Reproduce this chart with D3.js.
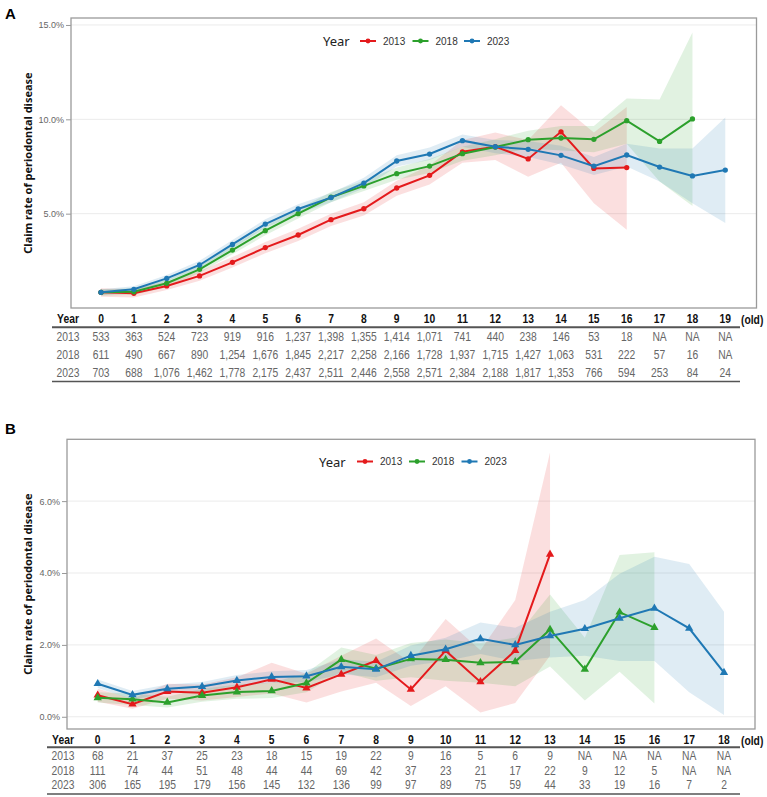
<!DOCTYPE html>
<html>
<head>
<meta charset="utf-8">
<script src="https://cdn.jsdelivr.net/npm/d3@7"></script>
<style>
  html, body { margin: 0; padding: 0; background: #fff; }
  svg { display: block; }
</style>
</head>
<body>
<div id="chart"></div>
<script>
// ===== CLAIM RATE OF PERIODONTAL DISEASE BY AGE =====

const years = ['2013', '2018', '2023'];
const colors = ['#e41a1c', '#2ca02c', '#1f78b4'];

// ---- Panel A (rates in %) ----
const agesA = [0, 1, 2, 3, 4, 5, 6, 7, 8, 9, 10, 11, 12, 13, 14, 15, 16, 17, 18, 19];
const rateA2013 = [0.83, 0.78, 1.17, 1.70, 2.42, 3.20, 3.87, 4.68, 5.26, 6.36, 7.03, 8.28, 8.55, 7.90, 9.34, 7.40, 7.44];
const lowA2013  = [0.60, 0.55, 0.95, 1.45, 2.15, 2.90, 3.55, 4.35, 4.90, 5.95, 6.55, 7.70, 7.85, 6.95, 7.70, 5.55, 4.15];
const highA2013 = [1.05, 1.00, 1.40, 1.95, 2.70, 3.50, 4.20, 5.00, 5.60, 6.75, 7.55, 8.90, 9.30, 8.90, 10.75, 9.30, 10.65];
const rateA2018 = [0.83, 0.86, 1.31, 2.05, 3.07, 4.10, 5.00, 5.87, 6.47, 7.12, 7.52, 8.18, 8.53, 8.92, 9.01, 8.94, 9.93, 8.83, 10.02];
const lowA2018  = [0.65, 0.70, 1.10, 1.85, 2.85, 3.85, 4.75, 5.60, 6.20, 6.80, 7.15, 7.80, 8.10, 8.45, 8.35, 8.25, 8.70, 6.70, 5.40];
const highA2018 = [1.00, 1.05, 1.50, 2.25, 3.30, 4.35, 5.25, 6.15, 6.75, 7.45, 7.90, 8.55, 8.95, 9.40, 9.65, 9.65, 11.10, 11.05, 14.60];
const rateA2023 = [0.83, 0.99, 1.57, 2.28, 3.37, 4.45, 5.25, 5.85, 6.62, 7.79, 8.16, 8.87, 8.55, 8.41, 8.09, 7.52, 8.11, 7.47, 7.00, 7.31];
const lowA2023  = [0.68, 0.83, 1.40, 2.10, 3.15, 4.25, 5.00, 5.60, 6.35, 7.50, 7.85, 8.55, 8.20, 8.00, 7.60, 7.05, 7.50, 6.70, 5.55, 4.50];
const highA2023 = [1.00, 1.15, 1.75, 2.50, 3.60, 4.70, 5.50, 6.10, 6.90, 8.10, 8.50, 9.20, 8.90, 8.85, 8.60, 8.00, 8.70, 8.45, 8.45, 10.10];
const ticksA = [5, 10, 15];
const countA2013 = [533, 363, 524, 723, 919, 916, 1237, 1398, 1355, 1414, 1071, 741, 440, 238, 146, 53, 18, null, null, null];
const countA2018 = [611, 490, 667, 890, 1254, 1676, 1845, 2217, 2258, 2166, 1728, 1937, 1715, 1427, 1063, 531, 222, 57, 16, null];
const countA2023 = [703, 688, 1076, 1462, 1778, 2175, 2437, 2511, 2446, 2558, 2571, 2384, 2188, 1817, 1353, 766, 594, 253, 84, 24];

// ---- Panel B (rates in %) ----
const agesB = [0, 1, 2, 3, 4, 5, 6, 7, 8, 9, 10, 11, 12, 13, 14, 15, 16, 17, 18];
const rateB2013 = [0.60, 0.35, 0.70, 0.67, 0.82, 1.04, 0.80, 1.18, 1.56, 0.76, 1.84, 0.97, 1.84, 4.52];
const lowB2013  = [0.42, 0.22, 0.50, 0.45, 0.55, 0.65, 0.40, 0.70, 0.95, 0.30, 0.85, 0.12, 0.38, 1.70];
const highB2013 = [0.78, 0.50, 0.92, 0.90, 1.10, 1.50, 1.20, 1.70, 2.18, 1.50, 2.72, 1.85, 3.25, 7.35];
const rateB2018 = [0.53, 0.49, 0.40, 0.59, 0.69, 0.72, 0.94, 1.59, 1.34, 1.61, 1.59, 1.50, 1.53, 2.43, 1.32, 2.91, 2.48];
const lowB2018  = [0.40, 0.33, 0.26, 0.42, 0.50, 0.52, 0.68, 1.25, 1.00, 1.10, 1.00, 0.95, 0.85, 1.40, 0.45, 1.25, 0.37];
const highB2018 = [0.68, 0.65, 0.56, 0.78, 0.90, 0.95, 1.22, 1.93, 1.72, 2.05, 2.15, 2.05, 2.20, 3.40, 2.20, 4.50, 4.58];
const rateB2023 = [0.92, 0.61, 0.78, 0.84, 1.01, 1.11, 1.13, 1.39, 1.32, 1.70, 1.88, 2.17, 2.00, 2.25, 2.45, 2.74, 3.02, 2.46, 1.23];
const lowB2023  = [0.80, 0.48, 0.65, 0.70, 0.86, 0.95, 0.96, 1.18, 1.10, 1.42, 1.55, 1.75, 1.55, 1.65, 1.70, 1.55, 1.55, 0.68, 0.05];
const highB2023 = [1.04, 0.72, 0.90, 0.97, 1.16, 1.27, 1.30, 1.60, 1.53, 1.98, 2.20, 2.62, 2.48, 2.92, 3.25, 3.98, 4.45, 4.25, 2.92];
const ticksB = [0, 2, 4, 6];
const countB2013 = [68, 21, 37, 25, 23, 18, 15, 19, 22, 9, 16, 5, 6, 9, null, null, null, null, null];
const countB2018 = [111, 74, 44, 51, 48, 44, 44, 69, 42, 37, 23, 21, 17, 22, 9, 12, 5, null, null];
const countB2023 = [306, 165, 195, 179, 156, 145, 132, 136, 99, 97, 89, 75, 59, 44, 33, 19, 16, 7, 2];

const FONT_UI = "'Liberation Sans', Arial, sans-serif";
const FONT_TITLE = "'Noto Sans', 'Open Sans', sans-serif";
const NARROW = 0.86;  // no condensed font installed, squeeze table text instead

const svg = d3.select('#chart')
  .append('svg')
  .attr('width', 767)
  .attr('height', 797);

function series(ages, rate, low, high) {
  return rate.map((v, i) => ({ age: ages[i], v: v, lo: low[i], hi: high[i] }));
}

// table cell: condensed text centred at (cx, cy)
function cell(sel, cx, cy, txt, bold, anchor) {
  return sel.append('text')
    .attr('transform', `translate(${cx},${cy}) scale(${NARROW},1)`)
    .attr('text-anchor', anchor || 'middle')
    .attr('dominant-baseline', 'central')
    .attr('font-weight', bold ? 700 : 400)
    .attr('fill', bold ? '#111' : '#666')
    .text(txt);
}

function drawPanel(p) {
  const g = svg.append('g');

  const x = d3.scaleLinear().domain(p.xDomain).range(p.xRange);
  const y = d3.scaleLinear().domain(p.yDomain).range([p.bottom, p.top]);

  // panel label
  g.append('text')
    .attr('x', 5).attr('y', p.labelY)
    .attr('font-family', FONT_UI).attr('font-weight', 700).attr('font-size', 15)
    .attr('fill', '#000')
    .text(p.label);

  // grid
  g.selectAll('.grid').data(p.ticks).enter().append('line')
    .attr('x1', p.left).attr('x2', p.right)
    .attr('y1', d => y(d)).attr('y2', d => y(d))
    .attr('stroke', '#ebebeb').attr('stroke-width', 1);

  // y axis
  const yAxis = d3.axisLeft(y)
    .tickValues(p.ticks)
    .tickSize(5)
    .tickPadding(2)
    .tickFormat(d => d3.format('.1f')(d) + '%');
  const ax = g.append('g')
    .attr('transform', `translate(${p.left},0)`)
    .call(yAxis);
  ax.select('.domain').remove();
  ax.selectAll('line').attr('stroke', '#999');
  ax.selectAll('text')
    .attr('font-family', FONT_UI).attr('font-size', 9)
    .attr('fill', '#666');

  // axis title
  g.append('text')
    .attr('transform', `translate(27,${(p.top + p.bottom) / 2}) rotate(-90)`)
    .attr('text-anchor', 'middle')
    .attr('dominant-baseline', 'central')
    .attr('font-family', FONT_TITLE).attr('font-weight', 700).attr('font-size', 11)
    .attr('fill', '#111')
    .text('Claim rate of periodontal disease');

  const area = d3.area()
    .x(d => x(d.age)).y0(d => y(d.lo)).y1(d => y(d.hi));
  const line = d3.line()
    .x(d => x(d.age)).y(d => y(d.v));

  // ribbons first, then lines on top
  p.series.forEach((s, i) => {
    g.append('path').datum(s)
      .attr('d', area)
      .attr('fill', colors[i]).attr('fill-opacity', 0.14);
  });
  p.series.forEach((s, i) => {
    g.append('path').datum(s)
      .attr('d', line)
      .attr('fill', 'none')
      .attr('stroke', colors[i]).attr('stroke-width', 2);
    const sym = d3.symbol().type(p.marker).size(p.markerSize);
    g.selectAll(null).data(s).enter().append('path')
      .attr('transform', d => `translate(${x(d.age)},${y(d.v)})`)
      .attr('d', sym)
      .attr('fill', colors[i]);
  });

  // border
  g.append('rect')
    .attr('x', p.left).attr('y', p.top)
    .attr('width', p.right - p.left).attr('height', p.bottom - p.top)
    .attr('fill', 'none').attr('stroke', '#9a9a9a').attr('stroke-width', 1.3);

  // legend
  const lg = g.append('g');
  lg.append('text')
    .attr('x', p.legend.titleX).attr('y', p.legend.y)
    .attr('dominant-baseline', 'central')
    .attr('font-family', FONT_TITLE).attr('font-size', 13).attr('fill', '#222')
    .text('Year');
  years.forEach((yr, i) => {
    const kx = p.legend.keyX[i];
    lg.append('line')
      .attr('x1', kx - 8).attr('x2', kx + 8)
      .attr('y1', p.legend.y).attr('y2', p.legend.y)
      .attr('stroke', colors[i]).attr('stroke-width', 2);
    lg.append('circle')
      .attr('cx', kx).attr('cy', p.legend.y).attr('r', 2.4)
      .attr('fill', colors[i]);
    lg.append('text')
      .attr('x', kx + 15).attr('y', p.legend.y)
      .attr('dominant-baseline', 'central')
      .attr('font-family', FONT_UI).attr('font-size', 10).attr('fill', '#333')
      .text(yr);
  });

  // table below the panel
  const t = p.table;
  const tg = g.append('g')
    .attr('font-family', FONT_UI).attr('font-size', 12);
  cell(tg, t.yearX, t.headY, 'Year', true);
  p.ages.forEach(a => cell(tg, x(a), t.headY, a, true));
  cell(tg, 741, t.headY + 1, '(old)', true, 'start');
  tg.append('line')
    .attr('x1', t.x1).attr('x2', t.x2)
    .attr('y1', t.lineY).attr('y2', t.lineY)
    .attr('stroke', '#555').attr('stroke-width', 2);
  p.counts.forEach((row, r) => {
    const ry = t.rowY[r];
    cell(tg, t.yearX, ry, years[r], false);
    row.forEach((d, i) => {
      cell(tg, x(p.ages[i]), ry, d == null ? 'NA' : d3.format(',')(d), false);
    });
  });
  tg.append('line')
    .attr('x1', t.x1).attr('x2', t.x2)
    .attr('y1', t.bottomY).attr('y2', t.bottomY)
    .attr('stroke', '#555').attr('stroke-width', 1.5);
}

drawPanel({
  label: 'A', labelY: 19,
  left: 71, right: 756.5, top: 18, bottom: 308,
  xDomain: [0, 19], xRange: [101, 725.3],
  yDomain: [0, 15.37], ticks: ticksA,
  marker: d3.symbolCircle, markerSize: 22,
  ages: agesA,
  series: [
    series(agesA, rateA2013, lowA2013, highA2013),
    series(agesA, rateA2018, lowA2018, highA2018),
    series(agesA, rateA2023, lowA2023, highA2023)
  ],
  counts: [countA2013, countA2018, countA2023],
  legend: { y: 41, titleX: 323, keyX: [368, 420.5, 472] },
  table: { yearX: 68, headY: 318.5, lineY: 327.3, rowY: [336.7, 354.5, 372.3], bottomY: 381.5, x1: 52, x2: 740 }
});

drawPanel({
  label: 'B', labelY: 434,
  left: 67, right: 755, top: 439.3, bottom: 729,
  xDomain: [0, 18], xRange: [97.7, 724],
  yDomain: [-0.34, 7.72], ticks: ticksB,
  marker: d3.symbolTriangle, markerSize: 30,
  ages: agesB,
  series: [
    series(agesB, rateB2013, lowB2013, highB2013),
    series(agesB, rateB2018, lowB2018, highB2018),
    series(agesB, rateB2023, lowB2023, highB2023)
  ],
  counts: [countB2013, countB2018, countB2023],
  legend: { y: 461.5, titleX: 319, keyX: [365, 417, 469.5] },
  table: { yearX: 63, headY: 739.5, lineY: 747.3, rowY: [755.8, 770.5, 785.2], bottomY: 794, x1: 47, x2: 740 }
});
</script>
</body>
</html>
